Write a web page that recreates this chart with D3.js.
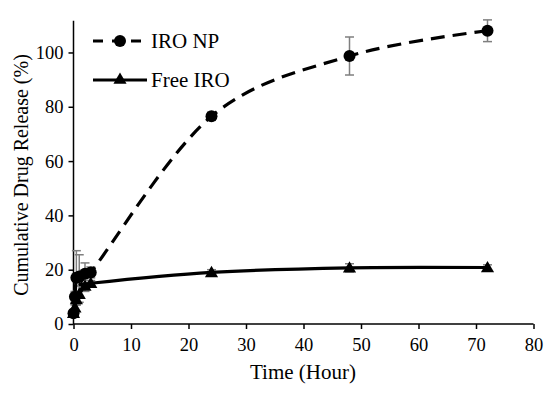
<!DOCTYPE html>
<html><head><meta charset="utf-8">
<script src="https://cdn.jsdelivr.net/npm/d3@7"></script>
<style>body{margin:0;background:#fff;}svg text{font-family:"Liberation Serif",serif !important;font-weight:normal;}</style>
</head><body>
<svg id="c" width="550" height="393"></svg>
<script>
const times = [0, 0.25, 0.5, 1, 2, 3, 24, 48, 72];
const npValues = [4, 10, 17, 17.5, 18.5, 19, 76.5, 98.7, 108];
const npErrors = [1, 2, 10, 8, 4, 2, 1.5, 7, 4];
const freeValues = [4, 6, 9, 11, 14, 15, 19, 20.7, 20.8];
const freeErrors = [1, 1, 2, 3, 2, 1, 1, 1.5, 1];
const xTicks = [0, 10, 20, 30, 40, 50, 60, 70, 80];
const yTicks = [0, 20, 40, 60, 80, 100];
const seriesNames = ["IRO NP", "Free IRO"];

const FONT = "Liberation Serif";
const svg = d3.select("#c");
const x = d3.scaleLinear().domain([0, 80]).range([73.5, 533.5]);
const y = d3.scaleLinear().domain([0, 111.7]).range([324, 20.7]);

const np = times.map((t, i) => ({t, v: npValues[i], e: npErrors[i]}));
const fr = times.map((t, i) => ({t, v: freeValues[i], e: freeErrors[i]}));

// axes
const xAxis = svg.append("g").attr("transform", "translate(0,324)")
  .call(d3.axisBottom(x).tickValues(xTicks).tickSize(5).tickPadding(9));
const yAxis = svg.append("g").attr("transform", "translate(73.5,0)")
  .call(d3.axisLeft(y).tickValues(yTicks).tickSize(5).tickPadding(5));
[xAxis, yAxis].forEach(g => {
  g.attr("font-family", FONT);
  g.select(".domain").attr("stroke", "#000").attr("stroke-width", 1.5);
  g.selectAll(".tick line").attr("stroke", "#000").attr("stroke-width", 1.5);
  g.selectAll(".tick text").attr("font-size", 18.5).attr("fill", "#000").attr("font-family", FONT);
});
xAxis.select(".domain").attr("d", "M73.5,0H533.5");
yAxis.select(".domain").attr("d", "M0,324V20.7");

// axis titles
svg.append("text").attr("x", 303).attr("y", 379).attr("text-anchor", "middle")
  .attr("font-family", FONT).attr("font-size", 21).text("Time (Hour)");
svg.append("text").attr("transform", "translate(28,175) rotate(-90)").attr("text-anchor", "middle")
  .attr("font-family", FONT).attr("font-size", 20).text("Cumulative Drug Release (%)");

// error bars
function errBars(data) {
  const g = svg.append("g").attr("stroke", "#7f7f7f").attr("stroke-width", 1.5);
  data.forEach(d => {
    const x0 = x(d.t), y1 = y(d.v + d.e), y2 = y(d.v - d.e);
    g.append("line").attr("x1", x0).attr("x2", x0).attr("y1", y1).attr("y2", y2);
    g.append("line").attr("x1", x0 - 4.5).attr("x2", x0 + 4.5).attr("y1", y1).attr("y2", y1);
    g.append("line").attr("x1", x0 - 4.5).attr("x2", x0 + 4.5).attr("y1", y2).attr("y2", y2);
  });
}
errBars(np);
errBars(fr);

const line = d3.line().x(d => x(d.t)).y(d => y(d.v)).curve(d3.curveCatmullRom.alpha(0));

svg.append("path").datum(np).attr("d", line).attr("fill", "none").attr("stroke", "#000")
  .attr("stroke-width", 3.2).attr("stroke-dasharray", "14,8");
svg.append("path").datum(fr).attr("d", line).attr("fill", "none").attr("stroke", "#000")
  .attr("stroke-width", 3.2);

const tri = d3.symbol().type(d3.symbolTriangle).size(75);
svg.append("g").selectAll("path").data(fr).join("path")
  .attr("d", tri).attr("transform", d => `translate(${x(d.t)},${y(d.v) + 1})`).attr("fill", "#000");
svg.append("g").selectAll("circle").data(np).join("circle")
  .attr("cx", d => x(d.t)).attr("cy", d => y(d.v)).attr("r", 6).attr("fill", "#000");

// legend
const lg = svg.append("g").attr("font-family", FONT);
lg.append("line").attr("x1", 93).attr("x2", 147).attr("y1", 41).attr("y2", 41)
  .attr("stroke", "#000").attr("stroke-width", 3.2).attr("stroke-dasharray", "10,9");
lg.append("circle").attr("cx", 120).attr("cy", 41).attr("r", 6).attr("fill", "#000");
lg.append("text").attr("x", 151).attr("y", 48).attr("font-size", 21).text(seriesNames[0]);
lg.append("line").attr("x1", 93).attr("x2", 147).attr("y1", 80).attr("y2", 80)
  .attr("stroke", "#000").attr("stroke-width", 3.2);
lg.append("path").attr("d", tri).attr("transform", "translate(120,80)").attr("fill", "#000");
lg.append("text").attr("x", 151).attr("y", 87).attr("font-size", 21).text(seriesNames[1]);
</script>
</body></html>
